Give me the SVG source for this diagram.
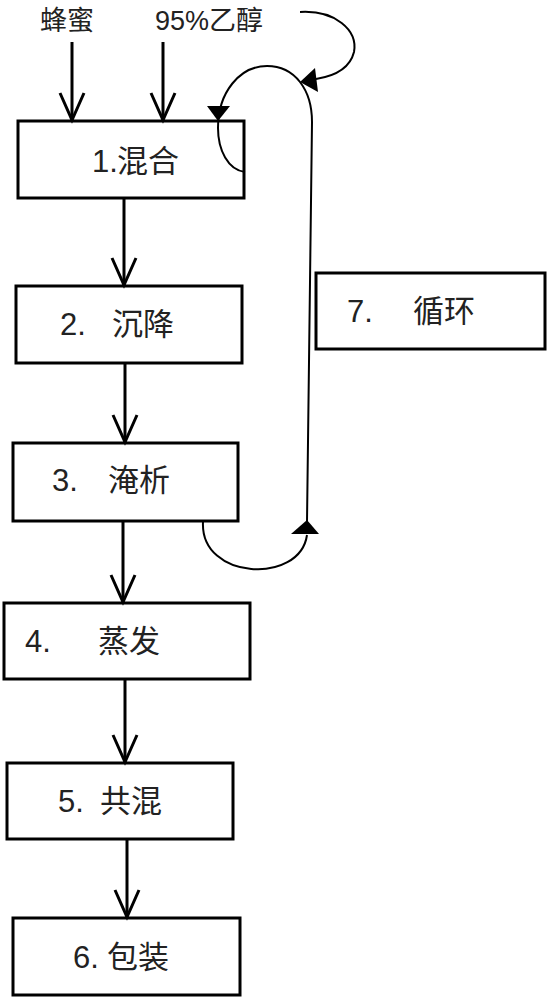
<svg xmlns="http://www.w3.org/2000/svg" width="547" height="1000" viewBox="0 0 547 1000">
<style>
.box{fill:#fff;stroke:#000;stroke-width:3}
.t{font-family:"Liberation Sans","Noto Sans CJK SC",sans-serif;font-size:31px;fill:#222}
.lbl{font-family:"Liberation Sans","Noto Sans CJK SC",sans-serif;font-size:27px;fill:#222}
.arr{stroke:#000;stroke-width:3;fill:none;marker-end:url(#v)}
.thin{stroke:#000;stroke-width:2;fill:none}
</style>
<defs>
<marker id="v" markerUnits="userSpaceOnUse" viewBox="-30 -15 34 30" refX="0" refY="0" markerWidth="34" markerHeight="30" orient="auto" overflow="visible">
<path d="M-27,-12 L0,0 L-27,12" fill="none" stroke="#000" stroke-width="3"/>
</marker>
</defs>
<rect width="547" height="1000" fill="#fff"/>
<g id="inputs">
<text class="lbl" x="40" y="30">蜂蜜</text>
<text class="lbl" x="155" y="30">95%乙醇</text>
</g>
<g id="n1"><rect class="box" x="18" y="121" width="226" height="77"/><text class="t" y="172"><tspan x="92">1.</tspan><tspan x="117">混合</tspan></text></g>
<g id="n2"><rect class="box" x="16" y="286" width="226" height="77"/><text class="t" y="335"><tspan x="60">2.</tspan><tspan x="112">沉降</tspan></text></g>
<g id="n3"><rect class="box" x="13" y="443" width="225" height="78"/><text class="t" y="491"><tspan x="52">3.</tspan><tspan x="108">淹析</tspan></text></g>
<g id="n4"><rect class="box" x="4" y="603" width="246" height="76"/><text class="t" y="652"><tspan x="25">4.</tspan><tspan x="98">蒸发</tspan></text></g>
<g id="n5"><rect class="box" x="7" y="763" width="226" height="76"/><text class="t" y="812"><tspan x="58">5.</tspan><tspan x="100">共混</tspan></text></g>
<g id="n6"><rect class="box" x="13" y="918" width="227" height="77"/><text class="t" y="968"><tspan x="73">6.</tspan><tspan x="107">包装</tspan></text></g>
<g id="n7"><rect class="box" x="316" y="273" width="229" height="76"/><text class="t" y="322"><tspan x="347">7.</tspan><tspan x="413">循环</tspan></text></g>
<g id="connectors">
<line class="arr" x1="72" y1="42" x2="72" y2="120"/>
<line class="arr" x1="163" y1="42" x2="163" y2="120"/>
<line class="arr" x1="124" y1="199" x2="124" y2="285"/>
<line class="arr" x1="125" y1="364" x2="125" y2="442"/>
<line class="arr" x1="123" y1="522" x2="123" y2="602"/>
<line class="arr" x1="125" y1="680" x2="125" y2="762"/>
<line class="arr" x1="127" y1="840" x2="127" y2="917"/>
<path class="thin" d="M203,522 C200,580 300,585 307,535"/>
<polygon points="307,520 291,534 319,534" fill="#000"/>
<path class="thin" d="M245,172 C228,170 218,150 218,128 C218,92 240,66 267,66 C295,66 312,90 312,122 L307,522"/>
<polygon points="207,106 230,106 218,121" fill="#000"/>
<path class="thin" d="M300,12 C335,10 358,30 354,52 C350,68 335,76 316,79"/>
<polygon points="300,82 315,68 318,92" fill="#000"/>
</g>
</svg>
